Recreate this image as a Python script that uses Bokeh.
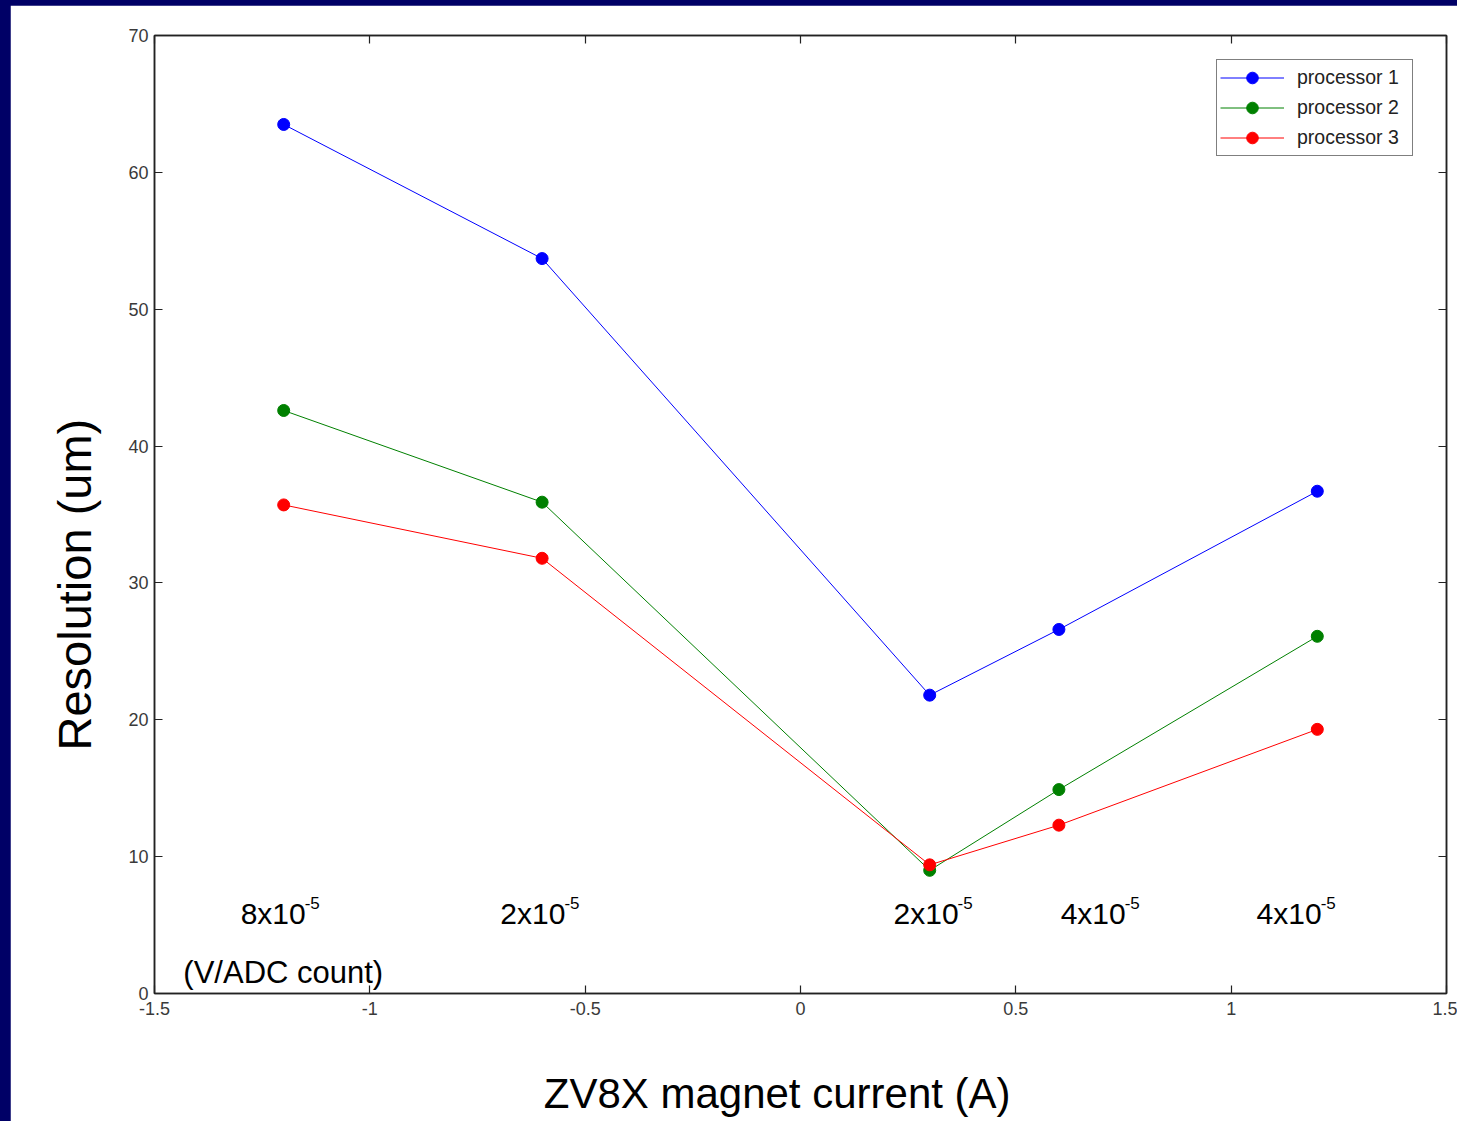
from bokeh.plotting import figure
from bokeh.models import (LinearAxis, Legend, LegendItem, FixedTicker, Range1d,
                          ColumnDataSource, Title)
from bokeh.embed import file_html
from bokeh.resources import INLINE
from bokeh.core.properties import value

# ---- data ----
current = [-1.2, -0.6, 0.3, 0.6, 1.2]
proc1 = [63.5, 53.7, 21.8, 26.6, 36.7]
proc2 = [42.6, 35.9, 9.0, 14.9, 26.1]
proc3 = [35.7, 31.8, 9.4, 12.3, 19.3]
series_names = ["processor 1", "processor 2", "processor 3"]
series_colors = ["#0000FF", "#008000", "#FF0000"]

x_ticks = [-1.5, -1, -0.5, 0, 0.5, 1, 1.5]
x_tick_labels = ["-1.5", "-1", "-0.5", "0", "0.5", "1", "1.5"]
y_ticks = [0, 10, 20, 30, 40, 50, 60, 70]

gain_mantissa = ["8x10", "2x10", "2x10", "4x10", "4x10"]
gain_exponent = ["-5", "-5", "-5", "-5", "-5"]
gain_x = [-1.2, -0.597, 0.316, 0.704, 1.159]
gain_y = [5.85, 5.85, 5.85, 5.85, 5.85]
unit_text = ["(V/ADC count)"]
unit_x = [-1.433]
unit_y = [1.5]

x_title = "ZV8X magnet current (A)"
y_title = "Resolution (um)"

FONT = "Liberation Sans"

p = figure(width=1447, height=1116, output_backend="svg", toolbar_location=None,
           x_range=Range1d(-1.5, 1.5), y_range=Range1d(0, 70),
           min_border_left=144, min_border_right=11, min_border_top=30, min_border_bottom=128,
           background_fill_color="white", border_fill_color="white")
p.grid.visible = False
p.outline_line_color = "#222222"
p.outline_line_width = 1.5

def style_axis(ax):
    ax.major_tick_in = 8
    ax.major_tick_out = 0
    ax.minor_tick_line_color = None
    ax.axis_line_color = "#222222"
    ax.axis_line_width = 1.5
    ax.major_tick_line_color = "#222222"
    ax.major_tick_line_width = 1.2
    ax.major_label_text_font = FONT
    ax.major_label_text_font_size = "18px"
    ax.major_label_text_color = "#3a3a3a"
    ax.major_label_standoff = 6

xa = p.xaxis[0]
xa.ticker = FixedTicker(ticks=x_ticks)
xa.major_label_overrides = {t: l for t, l in zip(x_ticks, x_tick_labels)}
style_axis(xa)
xa.major_label_standoff = 8
# trailing no-break spaces nudge the centred label slightly left, as in the original
xa.axis_label = x_title + "\u00a0" * 4
xa.axis_label_text_font = FONT
xa.axis_label_text_font_size = "42px"
xa.axis_label_text_font_style = "normal"
xa.axis_label_text_color = "black"
xa.axis_label_standoff = 52

ya = p.yaxis[0]
ya.ticker = FixedTicker(ticks=y_ticks)
style_axis(ya)

top = LinearAxis(ticker=FixedTicker(ticks=x_ticks))
style_axis(top)
top.major_label_overrides = {t: "" for t in x_ticks}
p.add_layout(top, "above")
right = LinearAxis(ticker=FixedTicker(ticks=y_ticks))
style_axis(right)
right.major_label_overrides = {t: "" for t in y_ticks}
p.add_layout(right, "right")

ytitle = Title(text=y_title, align="left", offset=243, vertical_align="bottom", standoff=50,
               text_font=FONT, text_font_size="47px", text_font_style="normal",
               text_color="black")
p.add_layout(ytitle, "left")

items = []
for ys, name, col in zip([proc1, proc2, proc3], series_names, series_colors):
    src = ColumnDataSource(dict(x=current, y=ys))
    ln = p.line("x", "y", source=src, line_color=col, line_width=1)
    sc = p.scatter("x", "y", source=src, marker="circle", size=12, fill_color=col, line_color=col)
    items.append(LegendItem(label=name, renderers=[ln, sc]))

legend = Legend(items=items, location=(1062, 837))
legend.label_text_font = FONT
legend.label_text_font_size = "19.5px"
legend.label_text_color = "#222222"
legend.glyph_width = 64
legend.glyph_height = 29
legend.label_height = 29
legend.label_width = 112
legend.label_standoff = 13
legend.spacing = 1
legend.padding = 3
legend.margin = 0
legend.border_line_color = "black"
legend.border_line_width = 1.5
legend.background_fill_color = "white"
legend.background_fill_alpha = 1
p.add_layout(legend)

gsrc = ColumnDataSource(dict(x=gain_x, y=gain_y, m=gain_mantissa, e=gain_exponent))
p.text("x", "y", text="m", source=gsrc, text_font=value(FONT), text_font_size="30px",
       text_align="right", text_baseline="alphabetic", x_offset=22, text_color="black")
p.text("x", "y", text="e", source=gsrc, text_font=value(FONT), text_font_size="17px",
       text_align="left", text_baseline="alphabetic", x_offset=21, y_offset=-10, text_color="black")

usrc = ColumnDataSource(dict(x=unit_x, y=unit_y, t=unit_text))
p.text("x", "y", text="t", source=usrc, text_font=value(FONT), text_font_size="31px",
       text_align="left", text_baseline="alphabetic", text_color="black")

html = file_html(p, INLINE)
html = html.replace("</head>",
    "<style>html,body{margin:0;background:#000066;} body{padding:5px 0 0 10px;overflow:hidden;}</style></head>", 1)
open("out.html", "w").write(html)
